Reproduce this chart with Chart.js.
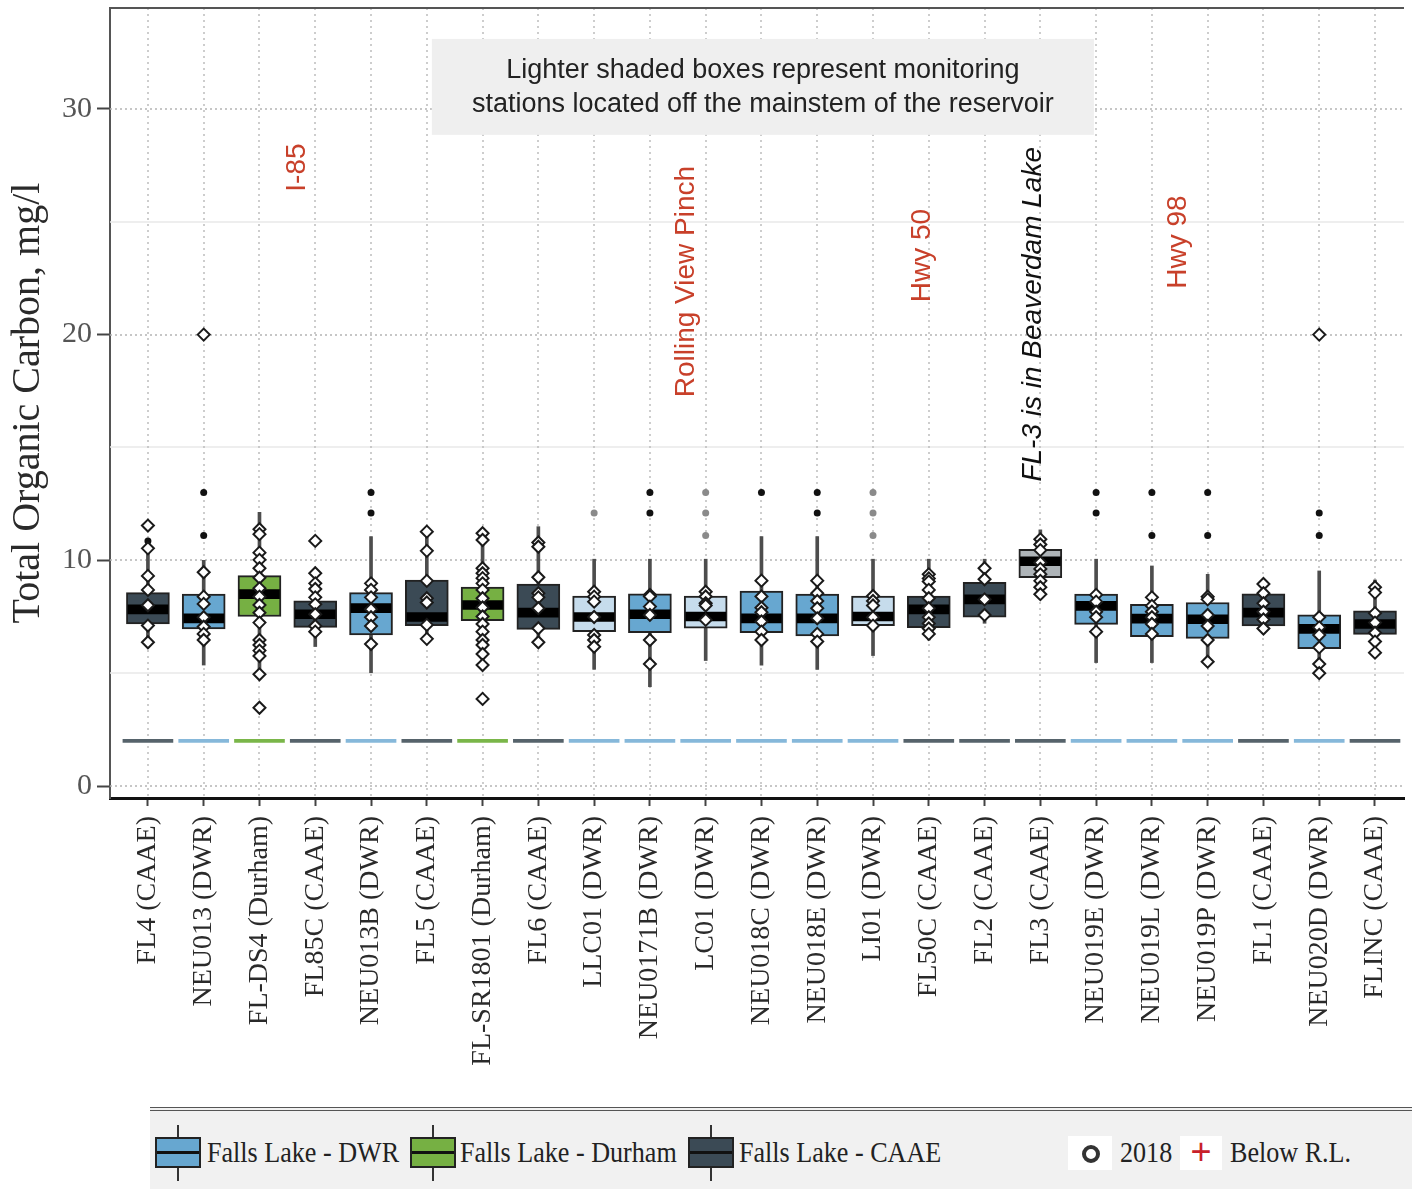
<!DOCTYPE html>
<html>
<head>
<meta charset="utf-8">
<script src="https://cdn.jsdelivr.net/npm/chart.js@4.4.1/dist/chart.umd.min.js"></script>
<style>
html,body{margin:0;padding:0;background:#fff;}
#wrap{position:relative;width:1412px;height:1189px;overflow:hidden;background:#fff;}
#c{position:absolute;left:0;top:0;}
#legend{position:absolute;left:150px;top:1107px;width:1262px;height:82px;background:#f1f1f1;border-top:4px double #555;box-sizing:border-box;}
.glyph{position:absolute;top:0;width:46px;height:100%;}
.glyph .wh{position:absolute;left:22px;top:14px;width:2px;height:56px;background:#333;}
.glyph .bx{position:absolute;left:0;top:26px;width:46px;height:31px;border:2px solid #222;box-sizing:border-box;}
.glyph .md{position:absolute;left:0;top:12px;width:100%;height:3px;background:#111;}
.lbl{position:absolute;top:24px;font-family:"Liberation Serif","Times New Roman",serif;font-size:30px;line-height:34px;color:#222;white-space:nowrap;transform:scaleX(0.87);transform-origin:left center;}
.sym{position:absolute;top:25px;height:34px;background:#fff;}
.ring{position:absolute;left:14px;top:9px;width:10px;height:10px;border:4px solid #333;border-radius:50%;}
.plus{position:absolute;left:0;top:-4px;width:100%;text-align:center;font-family:"Liberation Sans",sans-serif;font-size:36px;line-height:40px;color:#c8202a;}
</style>
</head>
<body>
<div id="wrap">
<canvas id="c" width="1412" height="1189"></canvas>
<div id="legend">
  <div class="glyph" style="left:5px"><div class="wh"></div><div class="bx" style="background:#67a7d0"><div class="md"></div></div></div>
  <div class="lbl" style="left:57px">Falls Lake - DWR</div>
  <div class="glyph" style="left:260px"><div class="wh"></div><div class="bx" style="background:#76b043"><div class="md"></div></div></div>
  <div class="lbl" style="left:310px">Falls Lake - Durham</div>
  <div class="glyph" style="left:538px"><div class="wh"></div><div class="bx" style="background:#3b4a55"><div class="md"></div></div></div>
  <div class="lbl" style="left:589px">Falls Lake - CAAE</div>
  <div class="sym" style="left:918px;width:44px"><div class="ring"></div></div>
  <div class="lbl" style="left:970px">2018</div>
  <div class="sym" style="left:1030px;width:42px"><div class="plus">+</div></div>
  <div class="lbl" style="left:1080px">Below R.L.</div>
</div>
</div>
<script>
// ---------- DATA ----------
const stations = ['FL4 (CAAE)','NEU013 (DWR)','FL-DS4 (Durham)','FL85C (CAAE)','NEU013B (DWR)','FL5 (CAAE)','FL-SR1801 (Durham)','FL6 (CAAE)','LLC01 (DWR)','NEU0171B (DWR)','LC01 (DWR)','NEU018C (DWR)','NEU018E (DWR)','LI01 (DWR)','FL50C (CAAE)','FL2 (CAAE)','FL3 (CAAE)','NEU019E (DWR)','NEU019L (DWR)','NEU019P (DWR)','FL1 (CAAE)','NEU020D (DWR)','FLINC (CAAE)'];
const groups = ['CAAE','DWR','Durham','CAAE','DWR','CAAE','Durham','CAAE','DWR','DWR','DWR','DWR','DWR','DWR','CAAE','CAAE','CAAE','DWR','DWR','DWR','CAAE','DWR','CAAE'];
const offMainstem = [0,0,0,0,0,0,0,0,1,0,1,0,0,1,0,0,1,0,0,0,0,0,0];

const q1      = [7.18,6.96,7.51,7.03,6.69,7.11,7.33,6.94,6.84,6.80,6.99,6.80,6.65,7.11,7.02,7.48,9.23,7.16,6.62,6.54,7.09,6.09,6.72];
const medians = [7.83,7.43,8.50,7.61,7.88,7.49,8.02,7.68,7.49,7.61,7.51,7.43,7.43,7.51,7.83,8.27,9.96,7.98,7.42,7.39,7.68,6.96,7.18];
const q3      = [8.57,8.50,9.32,8.20,8.57,9.13,8.81,8.95,8.42,8.51,8.42,8.64,8.50,8.42,8.42,9.03,10.49,8.50,8.05,8.13,8.51,7.58,7.76];
const whiskerLow  = [6.40,5.36,4.95,6.18,5.02,6.47,5.29,6.32,5.17,4.40,5.56,5.36,5.17,5.78,6.47,7.21,8.47,5.47,5.47,5.70,6.77,5.30,5.73];
const whiskerHigh = [10.50,10.00,12.13,9.40,11.05,11.27,11.27,11.49,10.05,10.05,10.05,11.05,11.05,10.05,10.05,10.05,11.35,10.05,9.75,9.38,9.06,9.53,9.13];
const reportingLimit = [2,2,2,2,2,2,2,2,2,2,2,2,2,2,2,2,2,2,2,2,2,2,2];

const outliers = [[10.86],[13,11.1],[],[],[13,12.1],[],[],[],[12.1],[13,12.1],[13,12.1,11.1],[13],[13,12.1],[13,12.1,11.1],[],[],[],[13,12.1],[13,11.1],[13,11.1],[],[12.1,11.1],[]];

const points2018 = [
  [11.54,10.53,9.31,8.69,8.01,7.11,6.37],
  [20.0,9.47,8.39,8.07,7.48,7.06,6.74,6.47],
  [11.38,11.16,10.34,10.02,9.65,9.23,8.76,8.39,8.02,7.68,7.24,6.47,6.25,6.0,5.76,4.95,3.47],
  [10.86,9.43,8.98,8.73,8.36,8.05,7.61,7.09,6.84],
  [8.98,8.69,8.36,7.83,7.48,7.09,6.29],
  [11.27,10.42,9.09,8.32,8.13,7.14,6.52],
  [11.2,10.9,9.65,9.43,9.21,8.98,8.69,8.32,7.91,7.51,7.18,6.84,6.47,6.25,5.85,5.36,3.86],
  [10.79,10.6,9.25,8.54,8.36,7.88,6.99,6.37],
  [8.61,8.39,8.17,7.49,6.69,6.47,6.17],
  [8.47,8.4,7.95,7.58,6.47,5.41],
  [8.61,8.4,8.1,8.0,7.36],
  [9.1,8.4,7.9,7.7,7.29,6.84,6.47],
  [9.1,8.54,8.2,7.88,7.43,6.74,6.4],
  [8.42,8.2,8.0,7.48,7.11],
  [9.38,9.2,9.06,8.69,8.32,7.88,7.48,7.2,6.98,6.74],
  [9.65,9.16,8.27,7.58],
  [10.93,10.7,10.45,9.9,9.62,9.38,9.09,8.81,8.5],
  [8.47,8.17,7.72,7.48,6.84],
  [8.36,7.98,7.72,7.48,7.18,6.74],
  [8.39,8.27,7.58,7.09,6.47,5.51],
  [8.95,8.54,8.1,7.72,7.38,6.98],
  [20.0,7.48,7.03,6.69,6.14,5.41,5.0],
  [8.81,8.57,7.66,7.24,6.79,6.4,5.91]
];

const yTicks = [0,10,20,30];
const yMinorLines = [5,15,25];
const yTitle = 'Total Organic Carbon, mg/l';

const noteLines = ['Lighter shaded boxes represent monitoring','stations located off the mainstem of the reservoir'];
const annoText   = ['I-85','Rolling View Pinch','Hwy 50','FL-3 is in Beaverdam Lake','Hwy 98'];
const annoX      = [2.67, 9.65, 13.88, 15.88, 18.47];
const annoY      = [27.4, 22.35, 23.5, 20.9, 24.1];
const annoColor  = ['#c8402a','#c8402a','#c8402a','#111111','#c8402a'];
const annoItalic = [false,false,false,true,false];

// ---------- STYLE ----------
const boxColors = {DWR:'#67a7d0', Durham:'#76b043', CAAE:'#3b4a55'};
const lightBoxColors = {DWR:'#c6dcec', Durham:'#c8e2ad', CAAE:'#aeb4b8'};
const rlColors = {DWR:'#86b8da', Durham:'#7ab649', CAAE:'#56636b'};
const serif = "'Liberation Serif','Times New Roman',serif";
const sans = "'Liberation Sans',Arial,sans-serif";

const idx = stations.map((s,i)=>i);
const boxFill = idx.map(i => offMainstem[i] ? lightBoxColors[groups[i]] : boxColors[groups[i]]);
const rlFill = idx.map(i => rlColors[groups[i]]);

const outlierData = [], outlierColors = [];
idx.forEach(i => outliers[i].forEach(v => { outlierData.push({x:i, y:v}); outlierColors.push(offMainstem[i] ? '#8a8a8a' : '#111'); }));
const pts = [];
idx.forEach(i => points2018[i].forEach(v => pts.push({x:i, y:v})));

const bgPlugin = {
  id: 'bgPlugin',
  beforeDatasetsDraw(chart) {
    const {ctx, chartArea: a, scales: {x, y}} = chart;
    ctx.save();
    const line = (x1,y1,x2,y2) => { ctx.beginPath(); ctx.moveTo(x1,y1); ctx.lineTo(x2,y2); ctx.stroke(); };
    ctx.lineWidth = 1.5;
    ctx.strokeStyle = '#e8e8e8';
    ctx.setLineDash([]);
    yMinorLines.forEach(v => { const p = Math.round(y.getPixelForValue(v)); line(a.left, p, a.right, p); });
    ctx.strokeStyle = '#b4b4b4';
    ctx.setLineDash([2,3]);
    yTicks.forEach(v => { const p = Math.round(y.getPixelForValue(v)); line(a.left, p, a.right, p); });
    ctx.strokeStyle = '#bdbdbd';
    ctx.setLineDash([2,4]);
    idx.forEach(i => { const p = Math.round(x.getPixelForValue(i)); line(p, a.top, p, a.bottom); });
    ctx.setLineDash([]);
    // top border
    ctx.strokeStyle = '#555'; ctx.lineWidth = 2;
    line(a.left, a.top, a.right, a.top);
    // note box
    const bx1 = x.getPixelForValue(5.09), bx2 = x.getPixelForValue(16.96);
    const by1 = y.getPixelForValue(33.1), by2 = y.getPixelForValue(28.85);
    ctx.fillStyle = '#efefef';
    ctx.fillRect(bx1, by1, bx2 - bx1, by2 - by1);
    ctx.fillStyle = '#222';
    ctx.font = "27px " + sans;
    ctx.textAlign = 'center'; ctx.textBaseline = 'middle';
    const cx = (bx1 + bx2) / 2;
    ctx.fillText(noteLines[0], cx, by1 + 32);
    ctx.fillText(noteLines[1], cx, by1 + 66);
    ctx.restore();
  },
  afterDatasetsDraw(chart) {
    const {ctx, scales: {x, y}} = chart;
    ctx.save();
    annoText.forEach((t, k) => {
      ctx.save();
      ctx.translate(x.getPixelForValue(annoX[k]), y.getPixelForValue(annoY[k]));
      ctx.rotate(-Math.PI / 2);
      ctx.font = (annoItalic[k] ? 'italic ' : '') + '28px ' + sans;
      ctx.fillStyle = annoColor[k];
      ctx.textAlign = 'center'; ctx.textBaseline = 'middle';
      ctx.fillText(t, 0, 0);
      ctx.restore();
    });
    ctx.restore();
  }
};

new Chart(document.getElementById('c'), {
  type: 'bar',
  data: {
    datasets: [
      { type:'scatter', label:'2018', data: pts, pointStyle:'rectRot', pointRadius:6, pointBackgroundColor:'#fff', pointBorderColor:'#1a1a1a', pointBorderWidth:2, order:0 },
      { type:'scatter', label:'outliers', data: outlierData, pointStyle:'circle', pointRadius:3.5, pointBackgroundColor: outlierColors, pointBorderColor: outlierColors, pointBorderWidth:0, order:1 },
      { label:'median', data: idx.map(i => ({x:i, y:[medians[i]-0.2, medians[i]+0.2]})), backgroundColor:'#000', borderWidth:0, grouped:false, barThickness:40, maxBarThickness:40, order:2 },
      { label:'box', data: idx.map(i => ({x:i, y:[q1[i], q3[i]]})), backgroundColor: boxFill, borderColor:'#222', borderWidth:2, borderSkipped:false, grouped:false, barThickness:43, maxBarThickness:43, order:3 },
      { label:'whisker', data: idx.map(i => ({x:i, y:[whiskerLow[i], whiskerHigh[i]]})), backgroundColor:'#4d4d4d', borderWidth:0, grouped:false, barThickness:3, maxBarThickness:3, order:4 },
      { label:'RL', data: idx.map(i => ({x:i, y:[reportingLimit[i]-0.07, reportingLimit[i]+0.07]})), backgroundColor: rlFill, borderWidth:0, grouped:false, barThickness:50, maxBarThickness:50, order:5 }
    ]
  },
  options: {
    responsive: false,
    animation: false,
    events: [],
    layout: { padding: { top: 7, left: 0, right: 0, bottom: 0 } },
    plugins: { legend: { display:false }, tooltip: { enabled:false } },
    scales: {
      x: {
        type: 'linear', min: -0.68, max: 22.52, offset: false,
        afterBuildTicks: s => { s.ticks = idx.map(i => ({value:i})); },
        afterFit: s => { s.height = 391; s.paddingLeft = 0; s.paddingRight = 0; },
        ticks: { autoSkip:false, minRotation:90, maxRotation:90, padding:10, color:'#2a2a2a', font:{family:serif, size:28}, callback: v => stations[v] },
        grid: { drawOnChartArea:false, drawTicks:true, tickLength:8, tickColor:'#444', tickWidth:2, offset:false },
        border: { display:true, color:'#111', width:3 }
      },
      y: {
        type: 'linear', min: -0.53, max: 34.47,
        afterBuildTicks: s => { s.ticks = yTicks.map(v => ({value:v})); },
        afterFit: s => { s.width = 110; s.paddingTop = 0; s.paddingBottom = 0; },
        ticks: { padding:5, color:'#555', font:{family:serif, size:30} },
        grid: { drawOnChartArea:false, drawTicks:true, tickLength:13, tickColor:'#444', tickWidth:2 },
        border: { display:true, color:'#555', width:2 },
        title: { display:true, text: yTitle, color:'#2a2a2a', font:{family:serif, size:40}, padding:{top:4, bottom:0} }
      }
    }
  },
  plugins: [bgPlugin]
});
</script>
</body>
</html>
